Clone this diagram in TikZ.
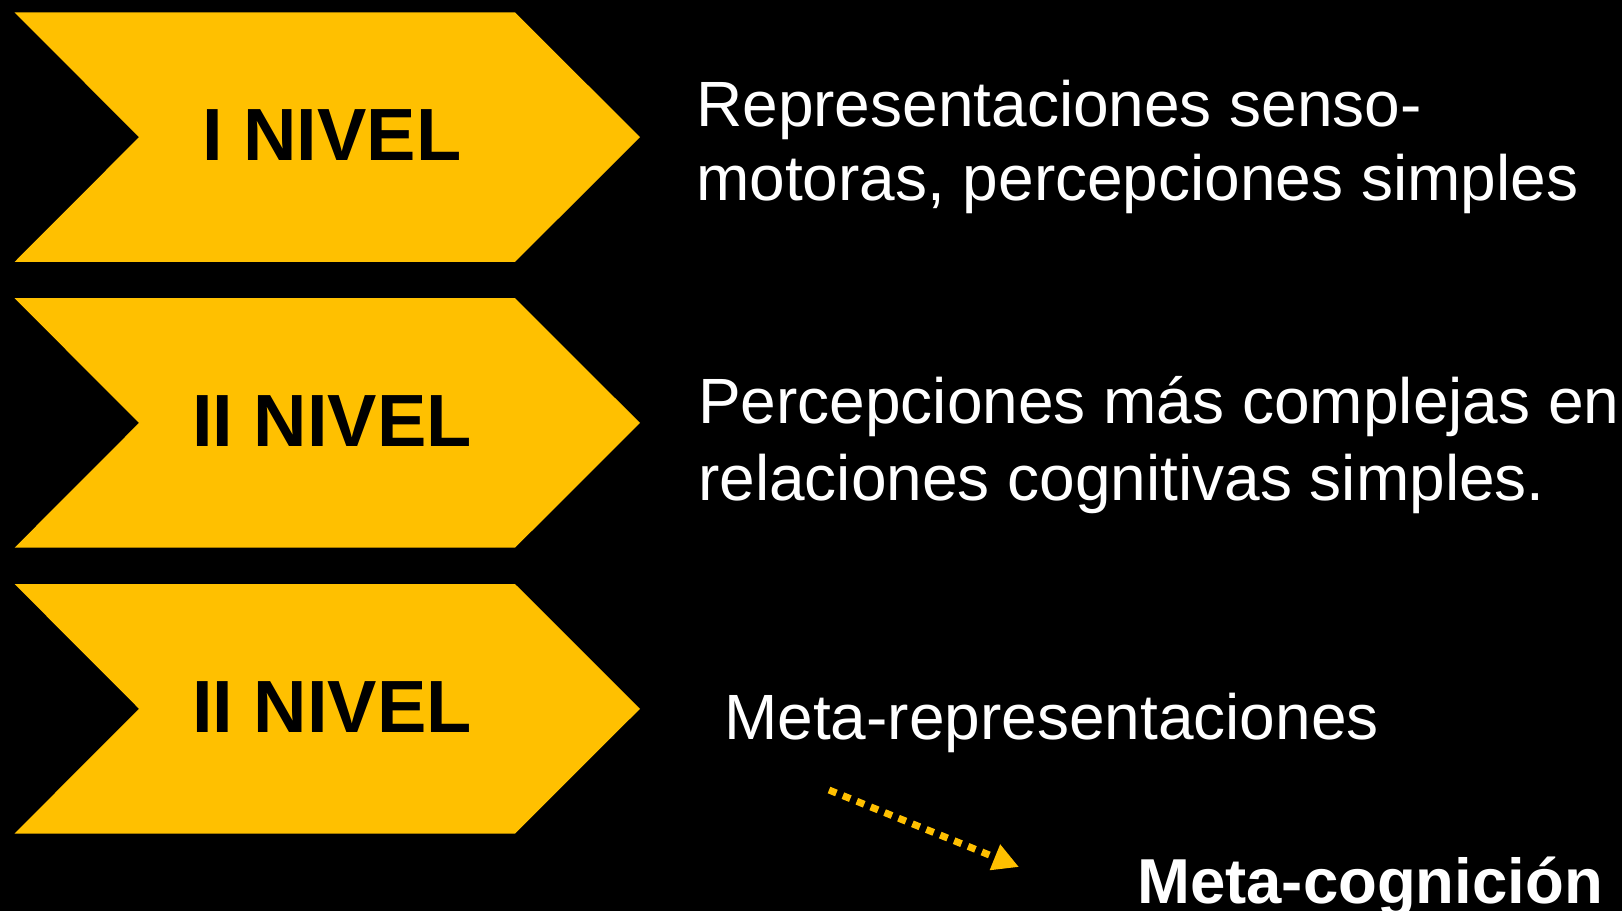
\documentclass[tikz,border=0pt]{standalone}
\usepackage{fontspec}
\setmainfont{Liberation Sans}
\usepackage{tikz}
\usetikzlibrary{arrows.meta}
\definecolor{amber}{RGB}{255, 192, 0}
\newcommand{\levtext}{\fontsize{74}{80}\selectfont\bfseries}

\begin{document}
\begin{tikzpicture}[x=1pt, y=-1pt,
  plain/.style={anchor=base west, inner sep=0pt, color=white, align=left}]

  \fill[black] (0, 0) rectangle (1622, 911);
  \useasboundingbox (0, 0) rectangle (1622, 911);

  \foreach \t/\lab/\nm in {12.4/I NIVEL/lvla, 298.2/II NIVEL/lvlb, 584/II NIVEL/lvlc} {
    \fill[color=amber] (14.6, \t) -- (515, \t) -- (640, \t + 124.75)
      -- (515, \t + 249.5) -- (14.6, \t + 249.5) -- (139, \t + 124.75) -- cycle;
    \node[anchor=base, inner sep=0pt, color=black] (\nm) at (332, \t + 148.3) {\levtext \lab};
  }

  \node[plain, font={\fontsize{64}{74}\selectfont}] (txta)
    at (696, 200.5) {Representaciones senso-\\motoras, percepciones simples};
  \node[plain, font={\fontsize{64}{77}\selectfont}] (txtb)
    at (698, 500) {Percepciones más complejas en\\relaciones cognitivas simples.};
  \node[plain, font={\fontsize{64}{77}\selectfont}] (meta)
    at (724, 739) {Meta-representaciones};
  \node[plain, font={\fontsize{63.5}{77}\selectfont\bfseries}] (metacog)
    at (1137, 903) {Meta-cognición};

  \coordinate (from) at (829, 790);
  \coordinate (to) at (1019, 867);
  \draw[color=amber, line width=7pt, dash pattern=on 8pt off 7pt,
    -{Triangle[length=26pt, width=26pt]}] (from) -- (to);

\end{tikzpicture}
\end{document}
